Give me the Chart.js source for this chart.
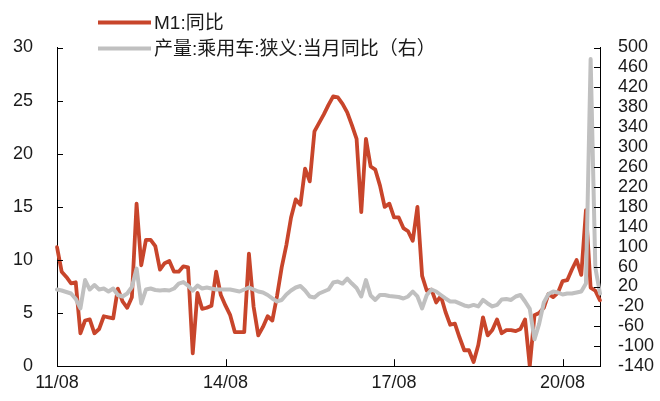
<!DOCTYPE html>
<html>
<head>
<meta charset="utf-8">
<script src="https://cdn.jsdelivr.net/npm/chart.js@4/dist/chart.umd.min.js"></script>
<style>
html,body{margin:0;padding:0;background:#fff;}
#wrap{width:660px;height:401px;position:relative;}
</style>
</head>
<body>
<div id="wrap"><canvas id="c" width="660" height="401"></canvas></div>
<script>
// Monthly categories 2011/08 – 2021/04 (label format YY/MM)
const startYear = 2011, startMonth = 8, monthCount = 117;
const months = [];
for (let k = 0; k < monthCount; k++) {
  const m = (startMonth - 1 + k) % 12 + 1;
  const y = startYear + Math.floor((startMonth - 1 + k) / 12);
  months.push(String(y % 100).padStart(2, '0') + '/' + String(m).padStart(2, '0'));
}
const tickLabels = ['11/08', '14/08', '17/08', '20/08'];

const seriesNames = ['M1:同比', '产量:乘用车:狭义:当月同比（右）'];

// M1 YoY (%) – left axis
const m1Yoy = [
  11.2, 8.9, 8.4, 7.8, 7.9,
  3.1, 4.3, 4.4, 3.1, 3.5, 4.7, 4.6, 4.5, 7.3, 6.1, 5.5, 6.5,
  15.3, 9.5, 11.9, 11.9, 11.3, 9.1, 9.7, 9.9, 8.9, 8.9, 9.4, 9.3,
  1.2, 6.9, 5.4, 5.5, 5.7, 8.9, 6.7, 5.7, 4.8, 3.2, 3.2, 3.2,
  10.6, 5.6, 2.9, 3.7, 4.7, 4.3, 6.6, 9.3, 11.4, 14.0, 15.7, 15.2,
  18.6, 17.4, 22.1, 22.9, 23.7, 24.6, 25.4, 25.3, 24.7, 23.9, 22.7, 21.4,
  14.5, 21.4, 18.8, 18.5, 17.0, 15.0, 15.3, 14.0, 14.0, 13.0, 12.7, 11.8,
  15.0, 8.5, 7.1, 7.2, 6.0, 6.6, 5.1, 3.9, 4.0, 2.7, 1.5, 1.5,
  0.4, 2.0, 4.6, 2.9, 3.4, 4.4, 3.1, 3.4, 3.4, 3.3, 3.5, 4.4,
  0.0, 4.8, 5.0, 5.5, 6.8, 6.5, 6.9, 8.0, 8.1, 9.1, 10.0, 8.6,
  14.7, 7.4, 7.1, 6.2
];

// Passenger car production YoY (%) – right axis
const carProdYoy = [
  14, 12, 9, 6, -5,
  -24, 33, 14, 23, 14, 16, 10, 16, 3, 0, 6, 19,
  56, -14, 14, 16, 13, 12, 13, 12, 16, 26, 29, 22,
  12, 22, 16, 18, 16, 14, 14, 14, 14, 12, 10, 14,
  18, 14, 10, 8, 3, -4, -10, -7, 4, 12, 18, 21,
  12, 0, -2, 6, 10, 14, 28, 30, 26, 36, 26, 17,
  0, 33, 2, -7, 3, 3, 1, 0, -1, -4, 0, 10,
  0, -24, 3, 14, 10, 3, -4, -10, -10, -14, -18, -20,
  -17, -20, -7, -14, -20, -17, -6, -5, -7, 0, 3, -10,
  -25, -86, -55, -12, 5, 10, 8, 4, 6, 6, 8, 10,
  26, 477, 58, 6
];

const RED = '#C8452B';
const GRAY = '#C0C0C0';
const TICK_FONT = { family: "'Liberation Sans', Arial, sans-serif", size: 18 };
const LEGEND_FONT = "19px 'Liberation Sans', 'Noto Sans CJK SC', sans-serif";

// inward tick marks drawn from the scales
const innerTicks = {
  id: 'innerTicks',
  afterDatasetsDraw(chart) {
    const ctx = chart.ctx;
    const ca = chart.chartArea;
    ctx.save();
    ctx.strokeStyle = '#000';
    ctx.lineWidth = 1;
    const yl = chart.scales.y, yr = chart.scales.y1, x = chart.scales.x;
    yl.ticks.forEach((t, i) => {
      const p = Math.round(yl.getPixelForTick(i)) + 0.5;
      ctx.beginPath(); ctx.moveTo(ca.left, p); ctx.lineTo(ca.left + 6, p); ctx.stroke();
    });
    yr.ticks.forEach((t, i) => {
      const p = Math.round(yr.getPixelForTick(i)) + 0.5;
      ctx.beginPath(); ctx.moveTo(ca.right, p); ctx.lineTo(ca.right - 6, p); ctx.stroke();
    });
    x.ticks.forEach((t, i) => {
      const p = Math.round(x.getPixelForTick(i)) + 0.5;
      ctx.beginPath(); ctx.moveTo(p, ca.bottom); ctx.lineTo(p, ca.bottom - 7); ctx.stroke();
    });
    ctx.restore();
  }
};

// stacked legend at top-left
const stackedLegend = {
  id: 'stackedLegend',
  afterDraw(chart) {
    const ctx = chart.ctx;
    const rows = [22.5, 48.5];
    ctx.save();
    ctx.font = LEGEND_FONT;
    ctx.textBaseline = 'middle';
    ctx.textAlign = 'left';
    chart.data.datasets.forEach((ds, i) => {
      const y = rows[i];
      ctx.strokeStyle = ds.borderColor;
      ctx.lineWidth = 4;
      ctx.beginPath(); ctx.moveTo(98, y); ctx.lineTo(151, y); ctx.stroke();
      ctx.fillStyle = '#1a1a1a';
      ctx.fillText(ds.label, 154, y + 1);
    });
    ctx.restore();
  }
};

new Chart(document.getElementById('c'), {
  type: 'line',
  data: {
    labels: months,
    datasets: [
      {
        label: seriesNames[0], data: m1Yoy, yAxisID: 'y',
        borderColor: RED, borderWidth: 3.8, pointRadius: 0, tension: 0,
        borderJoinStyle: 'round', borderCapStyle: 'round', order: 2
      },
      {
        label: seriesNames[1], data: carProdYoy, yAxisID: 'y1',
        borderColor: GRAY, borderWidth: 4, pointRadius: 0, tension: 0,
        borderJoinStyle: 'round', borderCapStyle: 'round', order: 1
      }
    ]
  },
  options: {
    responsive: false,
    animation: false,
    devicePixelRatio: 1,
    layout: { padding: { top: 47.5, left: 0, right: 0, bottom: 0 } },
    plugins: { legend: { display: false }, tooltip: { enabled: false } },
    scales: {
      x: {
        type: 'category',
        offset: false,
        grid: { display: false, drawTicks: false },
        border: { display: true, color: '#000', width: 1 },
        afterBuildTicks(scale) {
          scale.ticks = scale.ticks.filter(t => tickLabels.includes(months[t.value]));
        },
        afterFit(scale) { scale.height = 31; },
        ticks: {
          autoSkip: false, maxRotation: 0, minRotation: 0, padding: 6,
          color: '#1a1a1a', font: TICK_FONT,
          callback(v) { return months[v]; }
        }
      },
      y: {
        position: 'left', min: 0, max: 30,
        grid: { display: false, drawTicks: false },
        border: { display: true, color: '#000', width: 1 },
        afterFit(scale) { scale.width = 57; },
        ticks: { stepSize: 5, autoSkip: false, padding: 24, color: '#1a1a1a', font: TICK_FONT }
      },
      y1: {
        position: 'right', min: -140, max: 500,
        grid: { display: false, drawTicks: false },
        border: { display: true, color: '#000', width: 1 },
        afterFit(scale) { scale.width = 60; },
        ticks: { stepSize: 40, autoSkip: false, padding: 18, color: '#1a1a1a', font: TICK_FONT }
      }
    }
  },
  plugins: [innerTicks, stackedLegend]
});
</script>
</body>
</html>
